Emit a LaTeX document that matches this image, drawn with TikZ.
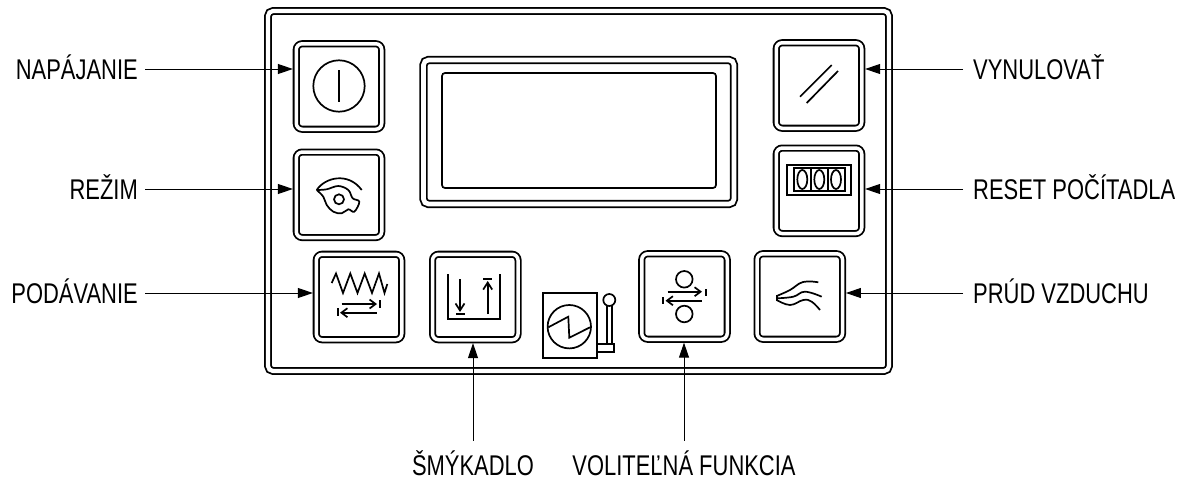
\documentclass[tikz,border=0pt]{standalone}
\usepackage{fontspec}
\setmainfont[FakeStretch=0.77]{Liberation Sans}
\usepackage{tikz}
\usetikzlibrary{arrows.meta,positioning}

\begin{document}
\begin{tikzpicture}[
    x=1pt, y=-1pt,
    dbl/.style={draw, double, line width=1.8pt, double distance=3.5pt, outer sep=3.4pt, inner sep=0pt},
    frame/.style={dbl, rounded corners=5pt, double distance=4.2pt},
    btn/.style={dbl, rounded corners=6pt, minimum width=85.5pt, minimum height=85.5pt},
    lbl/.style={font=\fontsize{28.5pt}{28.5pt}\selectfont, text height=20pt, text depth=0pt, inner ysep=0pt},
    lblleft/.style={lbl, anchor=east, inner xsep=7pt},
    lblright/.style={lbl, anchor=west, inner xsep=10pt},
    lblbottom/.style={lbl, inner ysep=14pt},
    arr/.style={-{Triangle[length=15pt,width=10pt]}, line width=1pt},
    icon/.style={line width=1.7pt},
    flow/.style={icon, -{Straight Barb[length=6pt,width=9pt]}},
    feed/.style={icon, -{Straight Barb[length=7pt,width=9pt]}}
  ]
    \useasboundingbox (0,0) rectangle (1183,479);
    \node[frame, minimum width=621pt, minimum height=360pt] (panel) at (578.5,191) {};
    \node[frame, minimum width=310.5pt, minimum height=144pt, double distance=4.7pt] (dispout) at (578.75,132) {};
    \node[draw, icon, rounded corners=3pt, minimum width=274pt, minimum height=115pt] (dispin) at (579,130.5) {};

    % buttons
    \node[btn] (btnpower) at (339,86.5) {};
    \node[btn, below=16pt of btnpower] (btnmode) {};
    \node[btn] (btnfeed) at (359,297) {};
    \node[btn, right=24pt of btnfeed] (btnslide) {};
    \node[btn] (btnoption) at (684.5,296.5) {};
    \node[btn, right=23pt of btnoption] (btnair) {};
    \node[btn] (btnclear) at (819,85.5) {};
    \node[btn, below=13pt of btnclear] (btncounter) {};

    % labels
    \node[lblleft] (lblpower) at (145,69) {NAPÁJANIE};
    \node[lblleft] (lblmode) at (145,189) {REŽIM};
    \node[lblleft] (lblfeed) at (145,293) {PODÁVANIE};
    \node[lblright] (lblclear) at (963,69) {VYNULOVAŤ};
    \node[lblright] (lblcounter) at (963,189) {RESET POČÍTADLA};
    \node[lblright] (lblair) at (963,293) {PRÚD VZDUCHU};
    \node[lblbottom] (lblslide) at (473,465) {ŠMÝKADLO};
    \node[lblbottom] (lbloption) at (684,465) {VOLITEĽNÁ FUNKCIA};

    % arrows
    \draw[arr] (lblpower.east) -- (lblpower.east -| btnpower.west);
    \draw[arr] (lblmode.east) -- (lblmode.east -| btnmode.west);
    \draw[arr] (lblfeed.east) -- (lblfeed.east -| btnfeed.west);
    \draw[arr] (lblclear.west) -- (lblclear.west -| btnclear.east);
    \draw[arr] (lblcounter.west) -- (lblcounter.west -| btncounter.east);
    \draw[arr] (lblair.west) -- (lblair.west -| btnair.east);
    \draw[arr] (lblslide.north) -- (lblslide.north |- btnslide.south);
    \draw[arr] (lbloption.north) -- (lbloption.north |- btnoption.south);

    % power
    \draw[icon] (339,86) circle (25.7);
    \draw[icon] (339,70) -- (339,102);
    % mode
    \draw[icon] (316.7,190) .. controls (325,177.3) and (348.3,171.7) .. (361.7,190);
    \draw[icon] plot[smooth, tension=.6] coordinates {(316.7,190) (323.3,196.7) (326.7,205) (333.3,211.7) (341.7,213.3) (348.3,209.3) (354.3,211.7) (359.3,201.7) (352.7,198.3) (348.3,190) (338.3,186) (326.7,189.3) (316.7,190)};
    \draw[icon] (339,199.3) circle (5);
    % feed
    \draw[icon] (331.7,283) -- (336,273.5) -- (343,293) -- (350.3,273.5) -- (357.5,293) -- (364.7,273.5) -- (372,293) -- (379,273.5) -- (384.5,293) -- (387.3,284);
    \draw[flow] (341.7,304) -- (377,304);
    \draw[flow] (376.7,312.7) -- (340,312.7);
    \draw[icon] (380,300) -- (380,307.5);
    \draw[icon] (337.7,308) -- (337.7,316);
    % slide
    \draw[icon] (448.3,274.3) -- (448.3,319) -- (500,319) -- (500,274.3);
    \draw[feed] (460,279) -- (460,312);
    \draw[icon] (456,314) -- (465,314);
    \draw[feed] (487.7,314) -- (487.7,281);
    \draw[icon] (483,279) -- (492,279);
    % motor
    \draw[icon] (543.3,293.3) rectangle (596.7,358.3);
    \draw[icon] (569.3,326.7) circle (21.7);
    \draw[icon] (548.3,327.3) -- (568.3,316.7) -- (569.3,337.7) -- (590,327.3);
    \draw[icon] (609.3,300) circle (6);
    \draw[icon] (607.3,306) -- (607.3,344) (612.3,306) -- (612.3,344);
    \draw[icon] (596.7,344) rectangle (614.3,351.7);
    % option
    \draw[icon] (684.3,279.3) circle (8.3);
    \draw[icon] (684.3,314) circle (8.3);
    \draw[flow] (667.7,291.7) -- (702,291.7);
    \draw[flow] (701.7,300.7) -- (665.5,300.7);
    \draw[icon] (706,289) -- (706,296);
    \draw[icon] (663.3,297.3) -- (663.3,304.3);
    % air
    \draw[icon] (776.7,295) -- (776.7,301);
    \draw[icon] plot[smooth, tension=.7] coordinates {(776.7,296) (790,290) (803,282) (818.3,282.3)};
    \draw[icon] plot[smooth, tension=.7] coordinates {(776.7,298.3) (793.3,296.7) (805,291.7) (821.7,296.7)};
    \draw[icon] plot[smooth, tension=.7] coordinates {(776.7,300) (790,305) (803.3,300) (811.7,301.7) (820,310)};
    % clear
    \draw[icon] (800,96.7) -- (831.7,65);
    \draw[icon] (806.7,103) -- (838,71);
    % counter
    \draw[icon] (787,165) rectangle (851,195);
    \draw[icon] (794,168) rectangle (845,191);
    \draw[icon] (810.7,168) -- (810.7,191) (828.3,168) -- (828.3,191);
    \draw[icon] (802.3,179.5) ellipse (5 and 9.5);
    \draw[icon] (819.3,179.5) ellipse (5 and 9.5);
    \draw[icon] (836,179.5) ellipse (5 and 9.5);
  \end{tikzpicture}
\end{document}
